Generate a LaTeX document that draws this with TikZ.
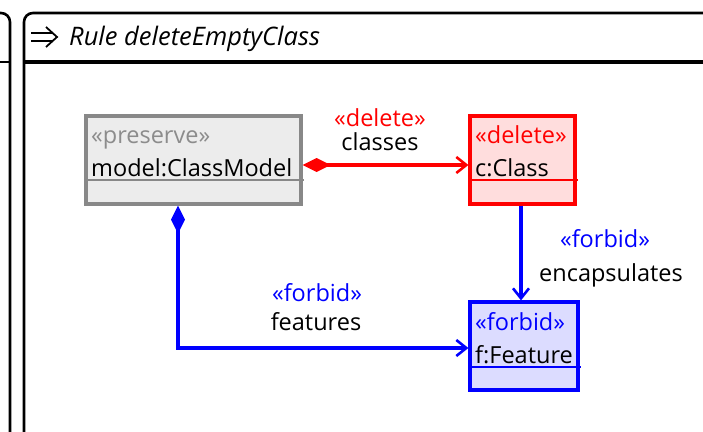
\documentclass[tikz,border=0pt]{standalone}
\usepackage{fontspec}
\setmainfont{Open Sans}
\usetikzlibrary{arrows.meta,calc}
\definecolor{umlred}{RGB}{255,0,0}
\definecolor{umlblue}{RGB}{0,0,255}
\definecolor{redfill}{RGB}{255,221,221}
\definecolor{bluefill}{RGB}{220,220,255}
\definecolor{grayfill}{RGB}{236,236,236}
\definecolor{grayline}{RGB}{136,136,136}
\definecolor{graytext}{RGB}{140,140,140}
\tikzset{
  frame/.style={draw=black, line width=2.6pt, rounded corners=9pt},
  classbox/.style={draw, line width=3.2pt, inner sep=0pt},
  lbl/.style={inner sep=0pt, anchor=base west, font=\fontsize{23.5}{26}\selectfont},
  elbl/.style={inner sep=0pt, anchor=base, font=\fontsize{23.5}{26}\selectfont},
  sep/.style={line width=2.4pt},
  conn/.style={line width=3.4pt},
  barb/.tip={Straight Barb[length=10pt,width=16pt,line width=2.6pt]},
  comp/.tip={Diamond[length=28pt,width=14pt]},
}
\begin{document}
\begin{tikzpicture}[x=1pt,y=-1pt]
\useasboundingbox (0,0) rectangle (703,431);
\begin{scope}
\clip (0,0) rectangle (703,431);
% neighbouring rule frame, left edge
\draw[frame] (-100,13) rectangle (10,470);
\draw[line width=2.6pt] (-100,62) -- (10,62);
% rule frame
\draw[frame] (24,13) rectangle (760,470);
\draw[line width=3.2pt] (24,62) -- (760,62);
\end{scope}
% rule symbol and title
\draw[line width=1.8pt] (31,33) -- (53,33) (31,41) -- (53,41);
\draw[line width=1.8pt] (46,27) -- (57,37) -- (46,47);
\node[lbl, font=\fontsize{25.5}{28}\selectfont\itshape] (title) at (69,45) {Rule deleteEmptyClass};

% class nodes
\node[classbox, draw=grayline, fill=grayfill, minimum width=215pt, minimum height=88pt] (cm) at (193.5,160) {};
\node[classbox, draw=umlred, fill=redfill, minimum width=105pt, minimum height=88pt] (cc) at (522.5,160) {};
\node[classbox, draw=umlblue, fill=bluefill, minimum width=108pt, minimum height=88pt] (ff) at (524,346) {};

% compartment separators
\draw[sep, grayline] (cm.west |- 0,180) -- ([xshift=1.5pt]cm.east |- 0,180);
\draw[sep, umlred] (cc.west |- 0,180) -- ([xshift=1.5pt]cc.east |- 0,180);
\draw[sep, umlblue] (ff.west |- 0,367) -- ([xshift=1.5pt]ff.east |- 0,367);

% class labels
\node[lbl, text=graytext] (cmst) at (91,143) {«preserve»};
\node[lbl] (cmname) at (91,176) {model:ClassModel};
\node[lbl, text=umlred] (ccst) at (475,143) {«delete»};
\node[lbl] (ccname) at (475,176) {c:Class};
\node[lbl, text=umlblue] (ffst) at (475,330) {«forbid»};
\node[lbl] (ffname) at (475,363) {f:Feature};

% references
\draw[conn, umlred, comp-barb] ([yshift=-5pt]cm.east) -- ([yshift=-5pt]cc.west);
\node[elbl, text=umlred] (clsst) at (380,126) {«delete»};
\node[elbl] (clsname) at (380,150) {classes};

\draw[conn, umlblue, -barb] ([xshift=-1.5pt]cc.south) -- ([xshift=-1.5pt]cc.south |- ff.north);
\node[elbl, text=umlblue] (encst) at (605,247) {«forbid»};
\node[elbl] (encname) at (611,281) {encapsulates};

\coordinate (fx) at (178,0);
\draw[conn, umlblue, comp-barb] (cm.south -| fx) |- ([yshift=-2pt]ff.west);
\node[elbl, text=umlblue] (featst) at (317,301) {«forbid»};
\node[elbl] (featname) at (316,330) {features};
\end{tikzpicture}
\end{document}
